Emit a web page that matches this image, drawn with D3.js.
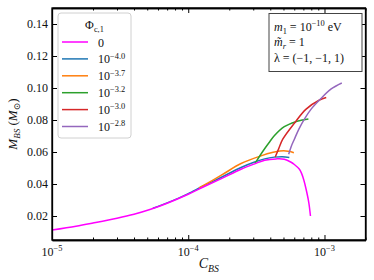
<!DOCTYPE html>
<html>
<head>
<meta charset="utf-8">
<style>
  body { margin: 0; background: #fff; }
</style>
</head>
<body>
<svg id="chart" width="374" height="280" font-family="'Liberation Serif', 'Times New Roman', 'DejaVu Serif', serif"></svg>
<script src="https://cdn.jsdelivr.net/npm/d3@7"></script>
<script>
/* global d3 */

// ---------- data ----------
const phiLabels = ['0', '−4.0', '−3.7', '−3.2', '−3.0', '−2.8']
const colors = ['#ff00ff', '#1f77b4', '#ff7f0e', '#2ca02c', '#d62728', '#9467bd']

const c0 = [1e-5, 1.5e-5, 2e-5, 3e-5, 4e-5, 5.3e-5, 7e-5, 1e-4, 1.3e-4, 1.75e-4, 2.44e-4, 3.07e-4, 3.64e-4, 4.42e-4, 5.07e-4, 5.69e-4, 6.01e-4, 6.55e-4, 6.8e-4, 7.05e-4, 7.33e-4, 7.67e-4, 7.89e-4]
const m0 = [0.0112, 0.0136, 0.0156, 0.0186, 0.0211, 0.0242, 0.0280, 0.0336, 0.0383, 0.0434, 0.0492, 0.0526, 0.0549, 0.0557, 0.0555, 0.0536, 0.0522, 0.0492, 0.0465, 0.0425, 0.0367, 0.0284, 0.0200]

const c1 = [5.5e-5, 7e-5, 8.5e-5, 1e-4, 1.3e-4, 1.75e-4, 2.44e-4, 3.07e-4, 3.64e-4, 4.28e-4, 4.9e-4, 5.52e-4]
const m1 = [0.0248, 0.0282, 0.0312, 0.0340, 0.0389, 0.0442, 0.0503, 0.0537, 0.0557, 0.0568, 0.0571, 0.0566]

const c2 = [1.2e-4, 1.75e-4, 2.44e-4, 3.42e-4, 4.2e-4, 4.7e-4, 5.2e-4, 5.6e-4, 5.96e-4]
const m2 = [0.0375, 0.0455, 0.0528, 0.0576, 0.0598, 0.0606, 0.0607, 0.0603, 0.0595]

const c3 = [3.1e-4, 3.5e-4, 3.9e-4, 4.28e-4, 5.07e-4, 6.19e-4, 6.73e-4, 7.62e-4]
const m3 = [0.0530, 0.0600, 0.0656, 0.0701, 0.0758, 0.0790, 0.0798, 0.0806]

const c4 = [4.35e-4, 4.6e-4, 4.94e-4, 6.01e-4, 7.33e-4, 9.19e-4, 1.03e-3]
const m4 = [0.0569, 0.0618, 0.0680, 0.0780, 0.0868, 0.0925, 0.0941]

const c5 = [5.46e-4, 5.7e-4, 6.01e-4, 6.5e-4, 7.12e-4, 7.98e-4, 9.19e-4, 1.12e-3, 1.34e-3]
const m5 = [0.0586, 0.0635, 0.0680, 0.0745, 0.0806, 0.0868, 0.0925, 0.0994, 0.1031]

const xTickExp = [-5, -4, -3]
const yTicks = [0.02, 0.04, 0.06, 0.08, 0.10, 0.12, 0.14]

// ---------- layout ----------
const W = 374, H = 280
const margin = { top: 8, right: 8.5, bottom: 40, left: 52 }
const iw = W - margin.left - margin.right
const ih = H - margin.top - margin.bottom

const svg = d3.select('#chart')
const g = svg.append('g').attr('transform', `translate(${margin.left},${margin.top})`)

const x = d3.scaleLog().domain([1e-5, 2e-3]).range([0, iw])
const y = d3.scaleLinear().domain([0.005, 0.15]).range([ih, 0])

// write text made of pieces, with sub / sup shifts carried as dy
function rich (sel, parts, size) {
  let shift = 0
  parts.forEach(p => {
    const want = p.s === 'sup' ? -size * 0.4 : p.s === 'sub' ? size * 0.25 : 0
    const t = sel.append('tspan').text(p.t)
    if (want !== shift) t.attr('dy', want - shift)
    shift = want
    if (p.i) t.attr('font-style', 'italic')
    if (p.s) t.attr('font-size', size * 0.7)
  })
  return sel
}

// ---------- curves ----------
const series = [[c0, m0], [c1, m1], [c2, m2], [c3, m3], [c4, m4], [c5, m5]]
const line = d3.line().x(d => x(d[0])).y(d => y(d[1])).curve(d3.curveCatmullRom.alpha(0.5))

const clip = svg.append('clipPath').attr('id', 'clip')
clip.append('rect').attr('width', iw).attr('height', ih)
const plot = g.append('g').attr('clip-path', 'url(#clip)')

// magenta drawn last so it sits on top of the shared branch
const order = [1, 2, 3, 4, 5, 0]
order.forEach(k => {
  const pts = series[k][0].map((c, i) => [c, series[k][1][i]])
  plot.append('path')
    .attr('d', line(pts))
    .attr('fill', 'none')
    .attr('stroke', colors[k])
    .attr('stroke-width', 1.5)
})

// ---------- axes ----------
const majors = xTickExp.map(e => Math.pow(10, e))
const minors = []
for (let e = -5; e <= -3; e++) {
  for (let m = 2; m <= 9; m++) {
    const v = m * Math.pow(10, e)
    if (v <= 2e-3) minors.push(v)
  }
}

function xAxis (gen, size, vals) {
  return gen(x).tickValues(vals).tickSize(size).tickSizeOuter(0).tickFormat('')
}

g.append('g').attr('transform', `translate(0,${ih})`).call(xAxis(d3.axisBottom, -5, majors))
g.append('g').attr('transform', `translate(0,${ih})`).call(xAxis(d3.axisBottom, -2.5, minors))
g.append('g').call(xAxis(d3.axisTop, -5, majors))
g.append('g').call(xAxis(d3.axisTop, -2.5, minors))

g.append('g').call(d3.axisLeft(y).tickValues(yTicks).tickSize(-5).tickSizeOuter(0).tickFormat(''))
g.append('g').attr('transform', `translate(${iw},0)`)
  .call(d3.axisRight(y).tickValues(yTicks).tickSize(-5).tickSizeOuter(0).tickFormat(''))

g.selectAll('.domain').attr('stroke', '#000').attr('stroke-width', 1.3)
g.selectAll('.tick line').attr('stroke', '#000').attr('stroke-width', 1)
g.selectAll('.tick text').remove()

// frame (all four spines)
g.append('rect').attr('width', iw).attr('height', ih)
  .attr('fill', 'none').attr('stroke', '#000').attr('stroke-width', 1.3)

// tick labels
yTicks.forEach(v => {
  g.append('text').attr('x', -4).attr('y', y(v)).attr('dy', '0.35em')
    .attr('text-anchor', 'end').attr('font-size', 12).attr('fill', '#111').text(v.toFixed(2))
})
xTickExp.forEach(e => {
  const t = g.append('text').attr('x', x(Math.pow(10, e))).attr('y', ih + 16)
    .attr('text-anchor', 'middle').attr('font-size', 12).attr('fill', '#111')
  rich(t, [{ t: '10' }, { t: '−' + Math.abs(e), s: 'sup' }], 12)
})

// axis titles
const xl = svg.append('text').attr('x', margin.left + iw / 2).attr('y', H - 12)
  .attr('text-anchor', 'middle').attr('font-size', 14).attr('fill', '#111')
rich(xl, [{ t: 'C', i: true }, { t: 'BS', i: true, s: 'sub' }], 14)

const yl = svg.append('text').attr('transform', `translate(17,${margin.top + ih / 2}) rotate(-90)`)
  .attr('text-anchor', 'middle').attr('font-size', 13).attr('fill', '#111')
rich(yl, [{ t: 'M', i: true }, { t: 'BS', i: true, s: 'sub' }, { t: ' (' }, { t: 'M', i: true }, { t: '⊙', s: 'sub' }, { t: ')' }], 13)

// ---------- legend ----------
const lg = svg.append('g')
lg.append('rect').attr('x', 58).attr('y', 13).attr('width', 73).attr('height', 125)
  .attr('rx', 3).attr('fill', '#fff').attr('fill-opacity', 0.85)
  .attr('stroke', '#d0d0d0').attr('stroke-width', 1)
const lt = lg.append('text').attr('x', 94.5).attr('y', 29).attr('text-anchor', 'middle')
  .attr('font-size', 12).attr('fill', '#111')
rich(lt, [{ t: 'Φ' }, { t: 'c,1', s: 'sub' }], 12)

phiLabels.forEach((lab, i) => {
  const cy = 42 + i * 16.9
  lg.append('line').attr('x1', 62).attr('x2', 88).attr('y1', cy).attr('y2', cy)
    .attr('stroke', colors[i]).attr('stroke-width', 1.5)
  const t = lg.append('text').attr('x', 98).attr('y', cy + 4.5).attr('font-size', 12).attr('fill', '#111')
  if (i === 0) t.text(lab)
  else rich(t, [{ t: '10' }, { t: lab, s: 'sup' }], 12)
})

// ---------- parameter box ----------
const pb = svg.append('g')
pb.append('rect').attr('x', 269).attr('y', 13.5).attr('width', 93).attr('height', 58)
  .attr('fill', '#fff').attr('stroke', '#444').attr('stroke-width', 1)
const p1 = pb.append('text').attr('x', 274).attr('y', 31).attr('font-size', 12).attr('fill', '#111')
rich(p1, [{ t: 'm', i: true }, { t: '1', s: 'sub' }, { t: ' = 10' }, { t: '−10', s: 'sup' }, { t: ' eV' }], 12)
const p2 = pb.append('text').attr('x', 274).attr('y', 46).attr('font-size', 12).attr('fill', '#111')
rich(p2, [{ t: 'm\u0303', i: true }, { t: 'r', i: true, s: 'sub' }, { t: ' = 1' }], 12)
pb.append('text').attr('x', 274).attr('y', 62).attr('font-size', 12).attr('fill', '#111').text('λ = (−1, −1, 1)')
</script>
</body>
</html>
